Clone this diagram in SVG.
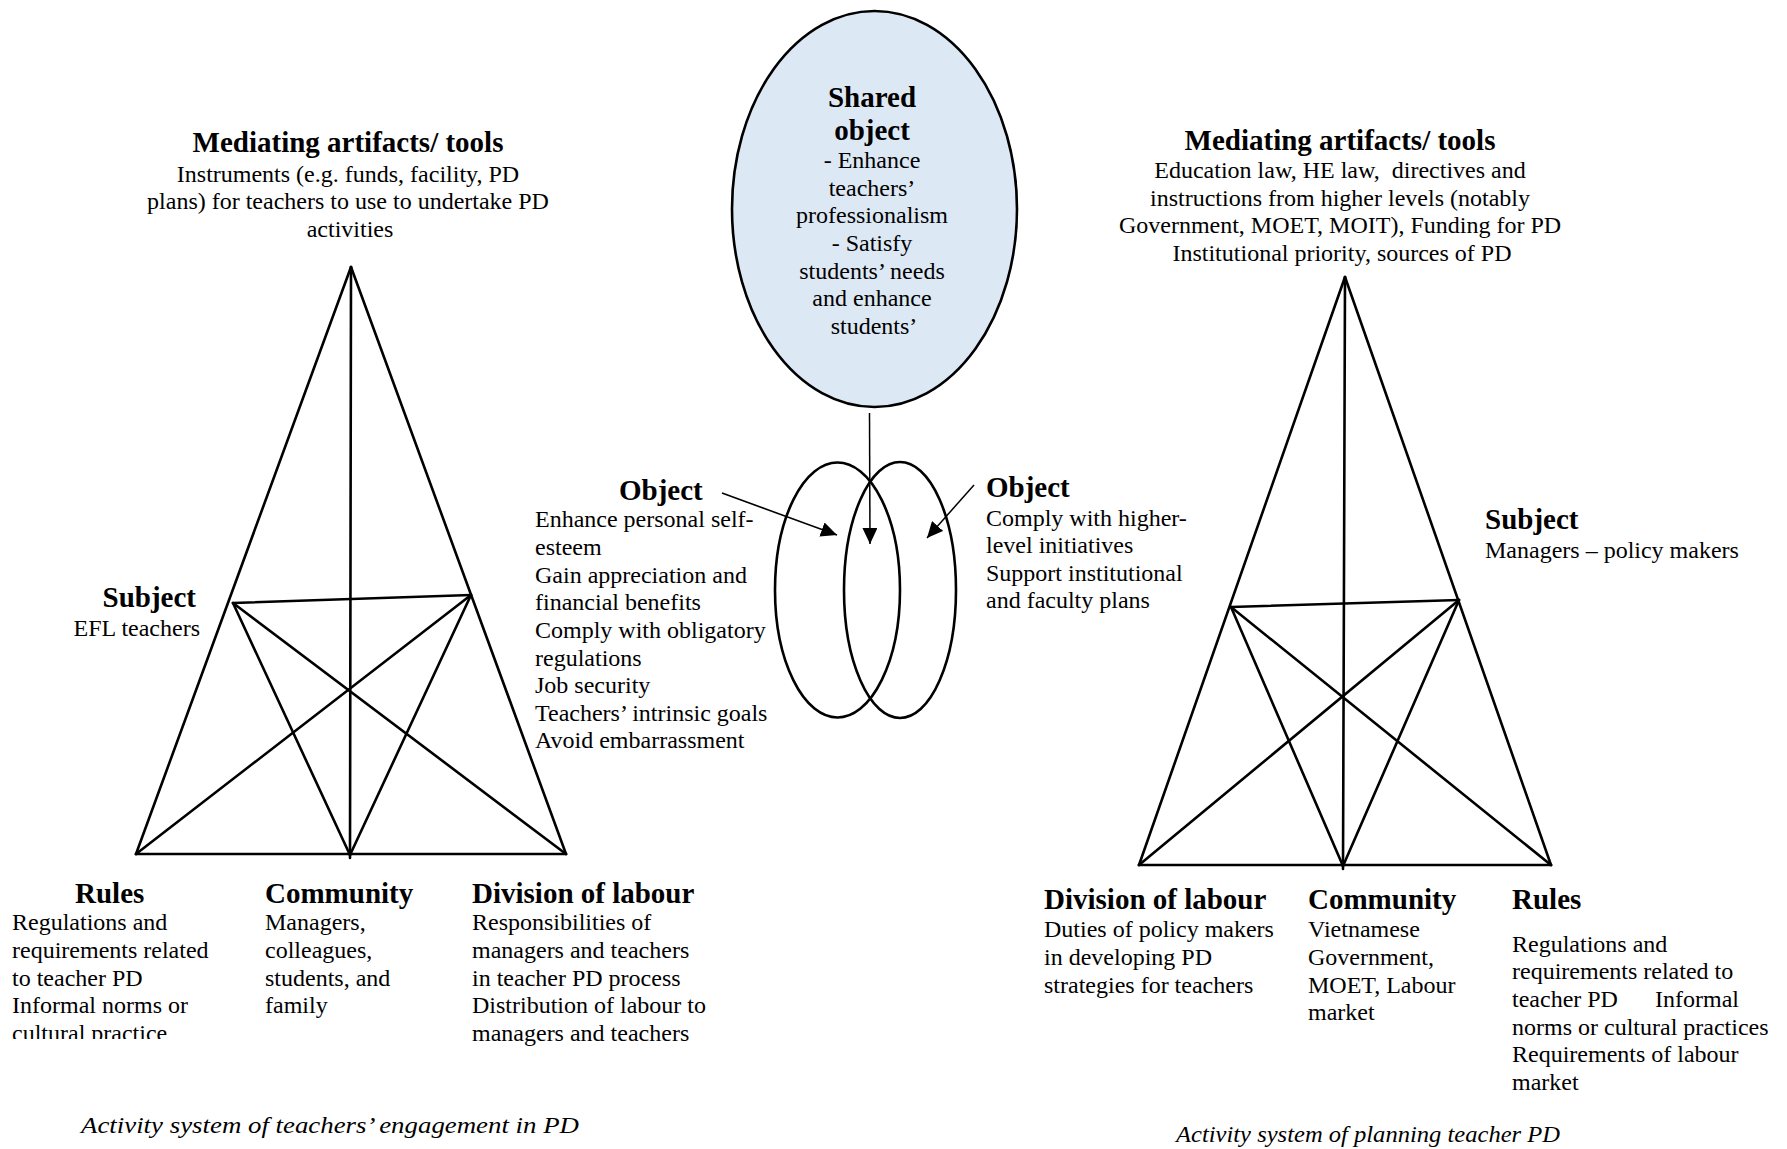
<svg xmlns="http://www.w3.org/2000/svg" width="1787" height="1149" viewBox="0 0 1787 1149">
  <style>
    text { font-family: "Liberation Serif", "Times New Roman", serif; fill: #000; }
    .h { font-size: 29px; font-weight: bold; }
    .t { font-size: 24px; }
    .cap { font-size: 24px; font-style: italic; }
    .tri line { stroke: #000; stroke-width: 2.6; stroke-linecap: round; }
    .ring { fill: none; stroke: #000; stroke-width: 2.6; }
    .arrow { stroke: #000; stroke-width: 1.5; fill: none; marker-end: url(#head); }
  </style>
  <defs>
    <marker id="head" viewBox="0 0 16 15" refX="16" refY="7.5" markerWidth="16" markerHeight="15" orient="auto" markerUnits="userSpaceOnUse">
      <path d="M0,0 L16,7.5 L0,15 z" fill="#000"/>
    </marker>
    <clipPath id="rulesClip">
      <rect x="0" y="880" width="240" height="159"/>
    </clipPath>
  </defs>
  <rect width="1787" height="1149" fill="#fff"/>

  <!-- Left activity triangle -->
  <g id="triangle-left" class="tri">
    <line x1="351" y1="267" x2="136" y2="854"/>
    <line x1="351" y1="267" x2="566" y2="854"/>
    <line x1="136" y1="854" x2="566" y2="854"/>
    <line x1="351" y1="267" x2="350" y2="858"/>
    <line x1="233" y1="603" x2="471" y2="595"/>
    <line x1="233" y1="603" x2="350" y2="855"/>
    <line x1="233" y1="603" x2="566" y2="854"/>
    <line x1="471" y1="595" x2="136" y2="854"/>
    <line x1="471" y1="595" x2="350" y2="855"/>
  </g>

  <!-- Right activity triangle -->
  <g id="triangle-right" class="tri">
    <line x1="1345" y1="277" x2="1139" y2="865"/>
    <line x1="1345" y1="277" x2="1551" y2="865"/>
    <line x1="1139" y1="865" x2="1551" y2="865"/>
    <line x1="1345" y1="277" x2="1343" y2="869"/>
    <line x1="1231" y1="607" x2="1459" y2="600"/>
    <line x1="1231" y1="607" x2="1343" y2="866"/>
    <line x1="1231" y1="607" x2="1551" y2="865"/>
    <line x1="1459" y1="600" x2="1139" y2="865"/>
    <line x1="1459" y1="600" x2="1343" y2="866"/>
  </g>

  <!-- Shared object -->
  <g id="shared-object">
    <ellipse cx="874.5" cy="209" rx="142.5" ry="198" fill="#dde8f5" stroke="#000" stroke-width="2.6"/>
    <text text-anchor="middle">
      <tspan class="h" x="874" y="107">Shared</tspan>
      <tspan class="h" x="874" y="140">object</tspan>
      <tspan class="t" x="874" y="168">- Enhance</tspan>
      <tspan class="t" x="874" y="196">teachers’</tspan>
      <tspan class="t" x="874" y="223">professionalism</tspan>
      <tspan class="t" x="874" y="251">- Satisfy</tspan>
      <tspan class="t" x="874" y="279">students’ needs</tspan>
      <tspan class="t" x="874" y="306">and enhance</tspan>
      <tspan class="t" x="874" y="334">students’</tspan>
    </text>
  </g>

  <!-- Overlapping objects -->
  <g id="object-rings">
    <ellipse class="ring" cx="837.5" cy="590" rx="62.5" ry="127.5"/>
    <ellipse class="ring" cx="900" cy="590" rx="56" ry="128"/>
  </g>

  <!-- Arrows towards the objects -->
  <g id="connectors">
    <line class="arrow" x1="869.5" y1="413" x2="870" y2="544"/>
    <line class="arrow" x1="722" y1="493" x2="837" y2="535"/>
    <line class="arrow" x1="974" y1="485" x2="927" y2="538"/>
  </g>

  <!-- Left system labels -->
  <g id="left-tools">
    <text text-anchor="middle">
      <tspan class="h" x="350" y="152">Mediating artifacts/ tools</tspan>
      <tspan class="t" x="350" y="182">Instruments (e.g. funds, facility, PD</tspan>
      <tspan class="t" x="350" y="209">plans) for teachers to use to undertake PD</tspan>
      <tspan class="t" x="350" y="237">activities</tspan>
    </text>
  </g>
  <g id="left-subject">
    <text text-anchor="end">
      <tspan class="h" x="200" y="607">Subject</tspan>
      <tspan class="t" x="200" y="636">EFL teachers</tspan>
    </text>
  </g>
  <g id="left-object">
    <text>
      <tspan class="h" x="619" y="500">Object</tspan>
      <tspan class="t" x="535" y="527">Enhance personal self-</tspan>
      <tspan class="t" x="535" y="555">esteem</tspan>
      <tspan class="t" x="535" y="583">Gain appreciation and</tspan>
      <tspan class="t" x="535" y="610">financial benefits</tspan>
      <tspan class="t" x="535" y="638">Comply with obligatory</tspan>
      <tspan class="t" x="535" y="666">regulations</tspan>
      <tspan class="t" x="535" y="693">Job security</tspan>
      <tspan class="t" x="535" y="721">Teachers’ intrinsic goals</tspan>
      <tspan class="t" x="535" y="748">Avoid embarrassment</tspan>
    </text>
  </g>
  <g id="left-rules">
    <text class="h" x="75" y="903">Rules</text>
    <text class="t" clip-path="url(#rulesClip)">
      <tspan x="12" y="930">Regulations and</tspan>
      <tspan x="12" y="958">requirements related</tspan>
      <tspan x="12" y="986">to teacher PD</tspan>
      <tspan x="12" y="1013">Informal norms or</tspan>
      <tspan x="12" y="1041">cultural practice</tspan>
    </text>
  </g>
  <g id="left-community">
    <text>
      <tspan class="h" x="265" y="903">Community</tspan>
      <tspan class="t" x="265" y="930">Managers,</tspan>
      <tspan class="t" x="265" y="958">colleagues,</tspan>
      <tspan class="t" x="265" y="986">students, and</tspan>
      <tspan class="t" x="265" y="1013">family</tspan>
    </text>
  </g>
  <g id="left-division">
    <text>
      <tspan class="h" x="472" y="903">Division of labour</tspan>
      <tspan class="t" x="472" y="930">Responsibilities of</tspan>
      <tspan class="t" x="472" y="958">managers and teachers</tspan>
      <tspan class="t" x="472" y="986">in teacher PD process</tspan>
      <tspan class="t" x="472" y="1013">Distribution of labour to</tspan>
      <tspan class="t" x="472" y="1041">managers and teachers</tspan>
    </text>
  </g>
  <g id="left-caption">
    <text class="cap" x="81" y="1133" textLength="498" lengthAdjust="spacingAndGlyphs">Activity system of teachers’ engagement in PD</text>
  </g>

  <!-- Right system labels -->
  <g id="right-tools">
    <text text-anchor="middle">
      <tspan class="h" x="1342" y="150">Mediating artifacts/ tools</tspan>
      <tspan class="t" x="1342" y="178" xml:space="preserve">Education law, HE law,  directives and</tspan>
      <tspan class="t" x="1342" y="206">instructions from higher levels (notably</tspan>
      <tspan class="t" x="1342" y="233">Government, MOET, MOIT), Funding for PD</tspan>
      <tspan class="t" x="1342" y="261">Institutional priority, sources of PD</tspan>
    </text>
  </g>
  <g id="right-object">
    <text>
      <tspan class="h" x="986" y="497">Object</tspan>
      <tspan class="t" x="986" y="526">Comply with higher-</tspan>
      <tspan class="t" x="986" y="553">level initiatives</tspan>
      <tspan class="t" x="986" y="581">Support institutional</tspan>
      <tspan class="t" x="986" y="608">and faculty plans</tspan>
    </text>
  </g>
  <g id="right-subject">
    <text>
      <tspan class="h" x="1485" y="529">Subject</tspan>
      <tspan class="t" x="1485" y="558">Managers – policy makers</tspan>
    </text>
  </g>
  <g id="right-division">
    <text>
      <tspan class="h" x="1044" y="909">Division of labour</tspan>
      <tspan class="t" x="1044" y="937">Duties of policy makers</tspan>
      <tspan class="t" x="1044" y="965">in developing PD</tspan>
      <tspan class="t" x="1044" y="993">strategies for teachers</tspan>
    </text>
  </g>
  <g id="right-community">
    <text>
      <tspan class="h" x="1308" y="909">Community</tspan>
      <tspan class="t" x="1308" y="937">Vietnamese</tspan>
      <tspan class="t" x="1308" y="965">Government,</tspan>
      <tspan class="t" x="1308" y="993">MOET, Labour</tspan>
      <tspan class="t" x="1308" y="1020">market</tspan>
    </text>
  </g>
  <g id="right-rules">
    <text>
      <tspan class="h" x="1512" y="909">Rules</tspan>
      <tspan class="t" x="1512" y="952">Regulations and</tspan>
      <tspan class="t" x="1512" y="979">requirements related to</tspan>
      <tspan class="t" x="1512" y="1007">teacher PD</tspan>
      <tspan class="t" x="1655" y="1007">Informal</tspan>
      <tspan class="t" x="1512" y="1035">norms or cultural practices</tspan>
      <tspan class="t" x="1512" y="1062">Requirements of labour</tspan>
      <tspan class="t" x="1512" y="1090">market</tspan>
    </text>
  </g>
  <g id="right-caption">
    <text class="cap" x="1176" y="1142" textLength="384" lengthAdjust="spacingAndGlyphs">Activity system of planning teacher PD</text>
  </g>
</svg>
